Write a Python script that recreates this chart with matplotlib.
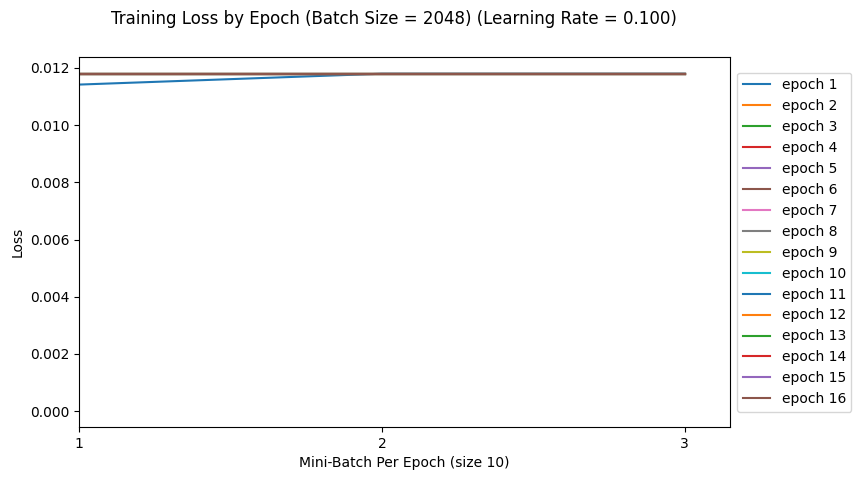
import matplotlib
matplotlib.use('Agg')
import matplotlib.pyplot as plt

# Data
batches = [1, 2, 3]
epoch_labels = ['epoch %d' % i for i in range(1, 17)]
epoch1_loss = [0.01142, 0.01180, 0.01180]
flat_loss = [0.01180, 0.01180, 0.01180]

fig, ax = plt.subplots(figsize=(8.61, 4.8), dpi=100)

for i, label in enumerate(epoch_labels):
    loss = epoch1_loss if i == 0 else flat_loss
    ax.plot(batches, loss, label=label)

ax.set_xlim(1, 3.15)
ax.set_ylim(-0.00056, 0.01238)
ax.set_xticks(batches)
ax.set_xlabel('Mini-Batch Per Epoch (size 10)')
ax.set_ylabel('Loss')
fig.suptitle('Training Loss by Epoch (Batch Size = 2048) (Learning Rate = 0.100)',
             fontsize=12, x=0.457, y=0.979)
ax.legend(loc='center left', bbox_to_anchor=(1, 0.5))

plt.subplots_adjust(left=0.092, right=0.848, top=0.881, bottom=0.11)
plt.savefig('out.png', dpi=100)
